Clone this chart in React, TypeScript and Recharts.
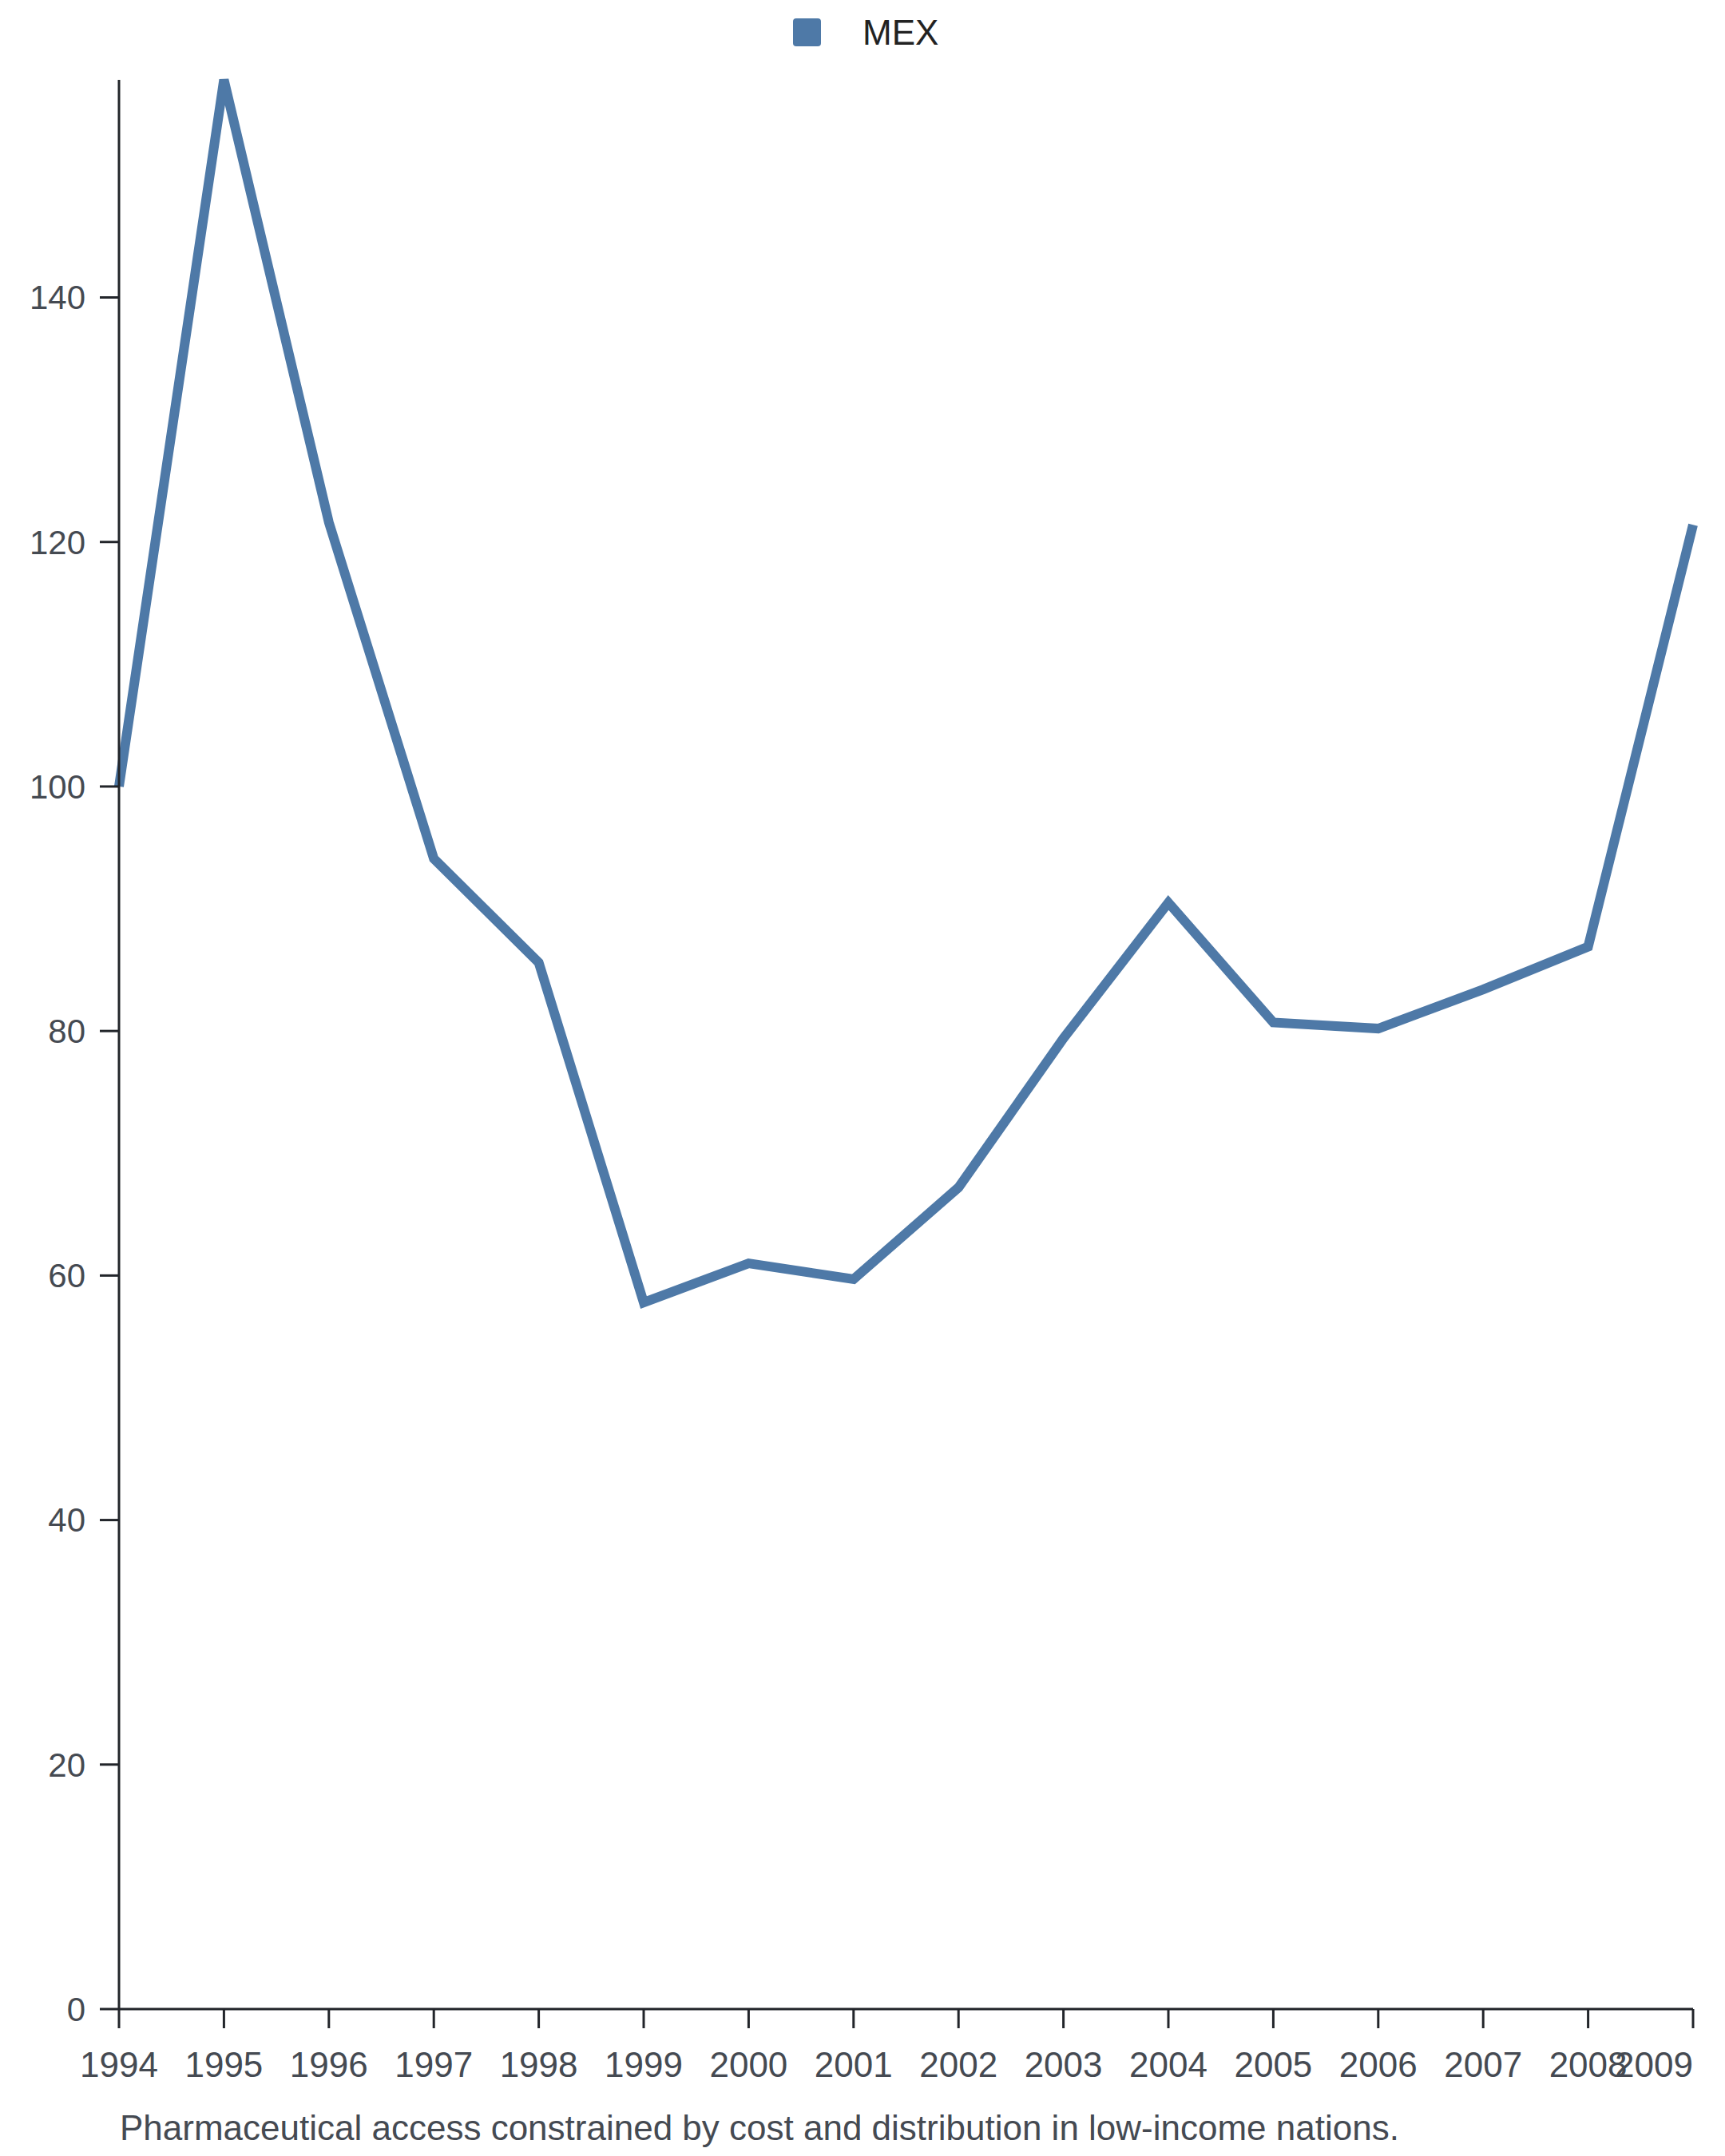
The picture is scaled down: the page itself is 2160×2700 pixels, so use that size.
import { LineChart, Line, XAxis, YAxis, Legend } from "recharts";

const years = [
  "1994", "1995", "1996", "1997", "1998", "1999", "2000", "2001",
  "2002", "2003", "2004", "2005", "2006", "2007", "2008", "2009",
];
const mexValues = [
  100.0, 157.8, 121.6, 94.1, 85.6, 57.8, 61.0, 59.7,
  67.2, 79.4, 90.5, 80.7, 80.2, 83.4, 86.9, 121.4,
];
const yTicks = [0, 20, 40, 60, 80, 100, 120, 140];
const seriesName = "MEX";
const caption =
  "Pharmaceutical access constrained by cost and distribution in low-income nations.";

const FONT = '"Liberation Sans", Arial, Helvetica, sans-serif';
const FONT_SIZE = 44;
const BLUE = "#4e79a7";
const AXIS = "#22252a";
const TICK_TEXT = "#454a52";

const data = years.map((year, i) => ({ year, [seriesName]: mexValues[i] }));

function LegendBox() {
  return (
    <div style={{ height: 70, display: "flex", paddingLeft: 993, fontFamily: FONT }}>
      <div style={{ display: "flex", alignItems: "center", marginTop: 11 }}>
        <span
          style={{
            width: 35,
            height: 35,
            borderRadius: 4,
            background: BLUE,
            display: "inline-block",
            marginRight: 52,
          }}
        />
        <span style={{ fontSize: FONT_SIZE, color: "#222", lineHeight: "46px" }}>
          {seriesName}
        </span>
      </div>
    </div>
  );
}

// last year label is pulled left so it ends at the axis end
function YearTick(props: any) {
  const { x, y, payload, index } = props;
  const last = index === years.length - 1;
  return (
    <text
      x={x}
      y={y}
      dy="0.71em"
      textAnchor={last ? "end" : "middle"}
      fill={TICK_TEXT}
      fontSize={FONT_SIZE}
      fontFamily={FONT}
    >
      {payload.value}
    </text>
  );
}

export default function App() {
  return (
    <div style={{ position: "relative", width: 2160, height: 2700, background: "#fff" }}>
      <style>{"body{margin:0}"}</style>
      <LineChart
        width={2160}
        height={2700}
        data={data}
        margin={{ top: 30, right: 40, left: 0, bottom: 94 }}
      >
        <Legend
          verticalAlign="top"
          align="left"
          wrapperStyle={{ top: 0, left: 0 }}
          content={() => <LegendBox />}
        />
        <XAxis
          dataKey="year"
          interval={0}
          tickSize={24}
          tickMargin={30}
          height={90}
          stroke={AXIS}
          strokeWidth={3}
          tick={<YearTick />}
        />
        <YAxis
          width={149}
          domain={[0, "dataMax"]}
          ticks={yTicks}
          tickSize={24}
          tickMargin={18}
          stroke={AXIS}
          strokeWidth={3}
          tick={{ fontSize: 42, fill: TICK_TEXT, fontFamily: FONT }}
        />
        <Line
          type="linear"
          dataKey={seriesName}
          stroke={BLUE}
          strokeWidth={12}
          dot={false}
          activeDot={false}
          isAnimationActive={false}
        />
      </LineChart>
      <div
        style={{
          position: "absolute",
          left: 150,
          top: 2640,
          fontFamily: FONT,
          fontSize: FONT_SIZE,
          color: TICK_TEXT,
          whiteSpace: "nowrap",
        }}
      >
        {caption}
      </div>
    </div>
  );
}
